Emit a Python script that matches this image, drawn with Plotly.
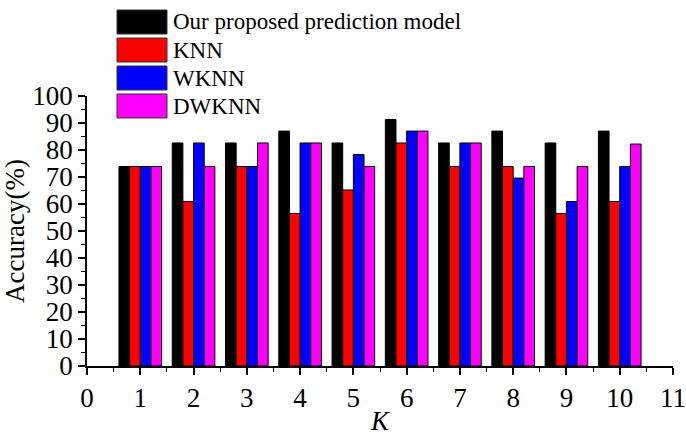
import plotly.graph_objects as go

K = [1, 2, 3, 4, 5, 6, 7, 8, 9, 10]
series_names = ["Our proposed prediction model", "KNN", "WKNN", "DWKNN"]
proposed = [73.9, 82.6, 82.6, 87.0, 82.6, 91.3, 82.6, 87.0, 82.6, 87.0]
knn = [73.9, 60.9, 73.9, 56.5, 65.2, 82.6, 73.9, 73.9, 56.5, 60.9]
wknn = [73.9, 82.6, 73.9, 82.6, 78.3, 87.0, 82.6, 69.6, 60.9, 73.9]
dwknn = [73.9, 73.9, 82.6, 82.6, 73.9, 87.0, 82.6, 73.9, 73.9, 82.2]
colors = ["#000000", "#ff0000", "#0000ff", "#ff00ff"]
x_ticks = list(range(0, 12))
y_ticks = list(range(0, 101, 10))

FONT = "Liberation Serif, Times New Roman, serif"

fig = go.Figure()
for name, vals, c in zip(series_names, [proposed, knn, wknn, dwknn], colors):
    fig.add_trace(go.Bar(x=K, y=vals, name=name, marker=dict(color=c, line=dict(color="#000000", width=1)),
                         showlegend=False))

# custom legend (large swatches like the reference); coordinates relative to plot area
row_y = [22, 50, 78, 106]
for name, c, yc in zip(series_names, colors, row_y):
    fig.add_shape(type="rect", xref="paper", yref="paper",
                  x0=(117 - 87) / 586, x1=(167 - 87) / 586,
                  y0=(366 - (yc + 12)) / 270, y1=(366 - (yc - 12)) / 270,
                  fillcolor=c, line=dict(color="#333333", width=1))
    fig.add_annotation(xref="paper", yref="paper", x=(171 - 87) / 586, y=(366 - yc) / 270,
                       text=name, showarrow=False, xanchor="left", yanchor="middle",
                       font=dict(family=FONT, size=23, color="#000000"))

fig.update_layout(
    width=686, height=436,
    margin=dict(l=87, r=13, t=96, b=70),
    paper_bgcolor="white", plot_bgcolor="white",
    barmode="group", bargap=0.2, bargroupgap=0,
    font=dict(family=FONT, color="#000000"),
)
fig.update_xaxes(range=[0, 11], tickvals=x_ticks, ticktext=[str(v) for v in x_ticks], automargin=False,
                 showline=True, linecolor="black", linewidth=1.5, showgrid=False, zeroline=False,
                 ticks="outside", ticklen=7, tickwidth=1.5, tickcolor="black",
                 tickfont=dict(family=FONT, size=27),
                 minor=dict(dtick=0.5, tick0=0, ticks="outside", ticklen=4, tickcolor="black", tickwidth=1),
                 title=dict(text="<i>K</i>", font=dict(family=FONT, size=27), standoff=0))
fig.update_yaxes(range=[0, 100], tickvals=y_ticks, ticktext=[str(v) for v in y_ticks], automargin=False,
                 showline=True, linecolor="black", linewidth=1.5, showgrid=False, zeroline=False,
                 ticks="outside", ticklen=7, tickwidth=1.5, tickcolor="black",
                 tickfont=dict(family=FONT, size=27),
                 minor=dict(dtick=5, tick0=0, ticks="outside", ticklen=4, tickcolor="black", tickwidth=1),
                 title=dict(text="Accuracy(%)", font=dict(family=FONT, size=27), standoff=0))

fig.write_html("out.html", config={"displayModeBar": False},
               post_script="document.body.style.margin='0';document.body.style.overflow='hidden';")
